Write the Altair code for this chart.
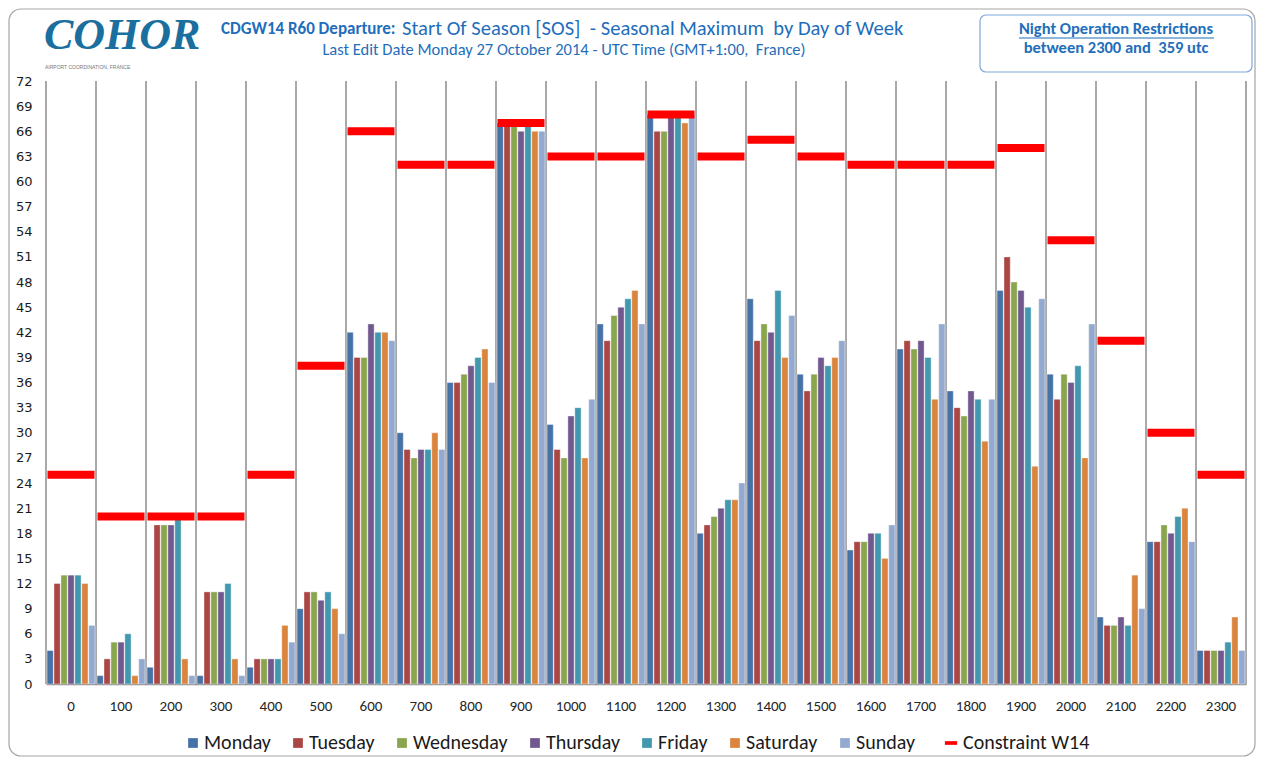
import altair as alt
import pandas as pd

hours = ["0", "100", "200", "300", "400", "500", "600", "700", "800", "900", "1000", "1100",
         "1200", "1300", "1400", "1500", "1600", "1700", "1800", "1900", "2000", "2100", "2200", "2300"]
days = ["Monday", "Tuesday", "Wednesday", "Thursday", "Friday", "Saturday", "Sunday"]
day_colors = ["#4572A7", "#AA4643", "#89A54E", "#71588F", "#4198AF", "#DB843D", "#93A9CF"]

monday    = [4, 1, 2, 1, 2, 9, 42, 30, 36, 67, 31, 43, 68, 18, 46, 37, 16, 40, 35, 47, 37, 8, 17, 4]
tuesday   = [12, 3, 19, 11, 3, 11, 39, 28, 36, 67, 28, 41, 66, 19, 41, 35, 17, 41, 33, 51, 34, 7, 17, 4]
wednesday = [13, 5, 19, 11, 3, 11, 39, 27, 37, 67, 27, 44, 66, 20, 43, 37, 17, 40, 32, 48, 37, 7, 19, 4]
thursday  = [13, 5, 19, 11, 3, 10, 43, 28, 38, 66, 32, 45, 68, 21, 42, 39, 18, 41, 35, 47, 36, 8, 18, 4]
friday    = [13, 6, 20, 12, 3, 11, 42, 28, 39, 67, 33, 46, 68, 22, 47, 38, 18, 39, 34, 45, 38, 7, 20, 5]
saturday  = [12, 1, 3, 3, 7, 9, 42, 30, 40, 66, 27, 47, 67, 22, 39, 39, 15, 34, 29, 26, 27, 13, 21, 8]
sunday    = [7, 3, 1, 1, 5, 6, 41, 28, 36, 66, 34, 43, 68, 24, 44, 41, 19, 43, 34, 46, 43, 9, 17, 4]
constraint = [25, 20, 20, 20, 25, 38, 66, 62, 62, 67, 63, 63, 68, 63, 65, 63, 62, 62, 62, 64, 53, 41, 30, 25]
y_ticks = list(range(0, 73, 3))

series = [monday, tuesday, wednesday, thursday, friday, saturday, sunday]
rows = []
for d, vals in zip(days, series):
    for h, v in zip(hours, vals):
        rows.append({"hour": h, "day": d, "value": v})
bars_df = pd.DataFrame(rows)
cons_df = pd.DataFrame({"hour": hours, "value": constraint, "series": ["Constraint W14"] * len(hours)})
hours_df = pd.DataFrame({"hour": hours})
one = pd.DataFrame({"k": [0]})

TITLE_BLUE = "#1F6EBB"
FONT = "Carlito, 'Liberation Sans Narrow', 'Liberation Sans', sans-serif"
NB = "\u00a0"

xscale = alt.Scale(domain=hours, paddingInner=0, paddingOuter=0)
yscale = alt.Scale(domain=[0, 72], nice=False)

x_axis = alt.Axis(title=None, labelAngle=0, ticks=False, domainColor="#8c8c8c", domainWidth=1.5,
                  labelFont=FONT, labelFontSize=15, labelPadding=14, labelColor="#262626",
                  grid=False)
y_axis = alt.Axis(title=None, values=y_ticks, ticks=False, domain=False, grid=False,
                  labelFont="DejaVu Sans", labelFontSize=13, labelPadding=14, labelColor="#1a1a1a")

bars = alt.Chart(bars_df).mark_bar(stroke="white", strokeWidth=0.4).encode(
    x=alt.X("hour:N", scale=xscale, axis=x_axis, sort=hours),
    xOffset=alt.XOffset("day:N", sort=days, scale=alt.Scale(domain=days, paddingInner=0.1, paddingOuter=0.15)),
    y=alt.Y("value:Q", scale=yscale, axis=y_axis),
    color=alt.Color("day:N", sort=days, scale=alt.Scale(domain=days, range=day_colors),
                    legend=alt.Legend(title=None, orient="none", direction="horizontal", columns=7,
                                      legendX=137, legendY=652, symbolType="square", symbolSize=95,
                                      symbolStrokeWidth=0, labelFont=FONT, labelFontSize=20,
                                      labelColor="#1a1a1a", columnPadding=17, labelOffset=1)),
)

grid = alt.Chart(hours_df).mark_rule(color="#8c8c8c", strokeWidth=1.5).encode(
    x=alt.X("hour:N", scale=xscale, sort=hours, bandPosition=0, axis=x_axis),
)
grid_end = alt.Chart(hours_df.tail(1)).mark_rule(color="#8c8c8c", strokeWidth=1.5).encode(
    x=alt.X("hour:N", scale=xscale, sort=hours, bandPosition=1, axis=x_axis),
)

ticks = alt.Chart(cons_df).mark_tick(size=47, thickness=8, opacity=1).encode(
    x=alt.X("hour:N", scale=xscale, sort=hours, axis=x_axis),
    y=alt.Y("value:Q", scale=yscale, axis=y_axis),
    fill=alt.Fill("series:N", scale=alt.Scale(domain=["Constraint W14"], range=["#FF0000"]),
                  legend=alt.Legend(title=None, orient="none", direction="horizontal",
                                    legendX=895, legendY=652,
                                    symbolType="M-1,-0.3L1,-0.3L1,0.3L-1,0.3Z", symbolSize=150,
                                    symbolStrokeWidth=0, symbolOpacity=1, labelFont=FONT, labelFontSize=20,
                                    labelColor="#1a1a1a", labelOffset=2)),
)

frame = alt.Chart(one).mark_rect(fill=None, stroke="#a6a6a6", strokeWidth=1.2, cornerRadius=12).encode(
    x=alt.value(-37), x2=alt.value(1209), y=alt.value(-72), y2=alt.value(675)
)

logo = alt.Chart(one).mark_text(text="COHOR", font="Liberation Serif", fontStyle="italic", fontWeight="bold",
                                fontSize=44, color="#1B6F9E", align="left", baseline="middle").encode(
    x=alt.value(-2), y=alt.value(-45))
logo_sub = alt.Chart(one).mark_text(text="AIRPORT COORDINATION, FRANCE", font="Liberation Sans", fontSize=5,
                                    color="#777777", align="left", baseline="middle").encode(
    x=alt.value(-1), y=alt.value(-14))

title_bold = alt.Chart(one).mark_text(text="CDGW14 R60 Departure:", font=FONT, fontWeight="bold", fontSize=17,
                                      color=TITLE_BLUE, align="left", baseline="middle").encode(
    x=alt.value(175), y=alt.value(-52))
title_reg = alt.Chart(one).mark_text(
    text="Start Of Season [SOS]" + NB + " - Seasonal Maximum" + NB + " by Day of Week", font=FONT,
    fontSize=20.6, color=TITLE_BLUE, align="left", baseline="middle").encode(
    x=alt.value(356), y=alt.value(-52))
subtitle = alt.Chart(one).mark_text(
    text="Last Edit Date Monday 27 October 2014 - UTC Time (GMT+1:00," + NB + " France)",
    font=FONT, fontSize=16.5, color=TITLE_BLUE, align="center", baseline="middle").encode(
    x=alt.value(518), y=alt.value(-31))

night_box = alt.Chart(one).mark_rect(fill="white", stroke="#7FA7DA", strokeWidth=1.2, cornerRadius=6).encode(
    x=alt.value(934), x2=alt.value(1206), y=alt.value(-66), y2=alt.value(-9))
night1 = alt.Chart(one).mark_text(text="Night Operation Restrictions", font=FONT, fontWeight="bold", fontSize=16.5,
                                  color=TITLE_BLUE, align="center", baseline="middle").encode(
    x=alt.value(1070), y=alt.value(-52))
night_ul = alt.Chart(one).mark_rule(color=TITLE_BLUE, strokeWidth=1.2).encode(
    x=alt.value(973), x2=alt.value(1168), y=alt.value(-43))
night2 = alt.Chart(one).mark_text(text="between 2300 and" + NB + " 359 utc", font=FONT, fontWeight="bold",
                                  fontSize=16.5, color=TITLE_BLUE, align="center", baseline="middle").encode(
    x=alt.value(1070), y=alt.value(-33))

chart = alt.layer(
    frame, grid, grid_end, bars, ticks, logo, logo_sub, title_bold, title_reg, subtitle,
    night_box, night1, night_ul, night2
).resolve_scale(color="independent", fill="independent").properties(
    width=1200, height=603,
    autosize=alt.AutoSizeParams(type="none"),
    padding={"left": 38, "top": 73, "right": 10, "bottom": 76},
    background="white",
).configure_view(stroke=None)

chart.save("out.html", embed_options={"renderer": "svg", "actions": False})
